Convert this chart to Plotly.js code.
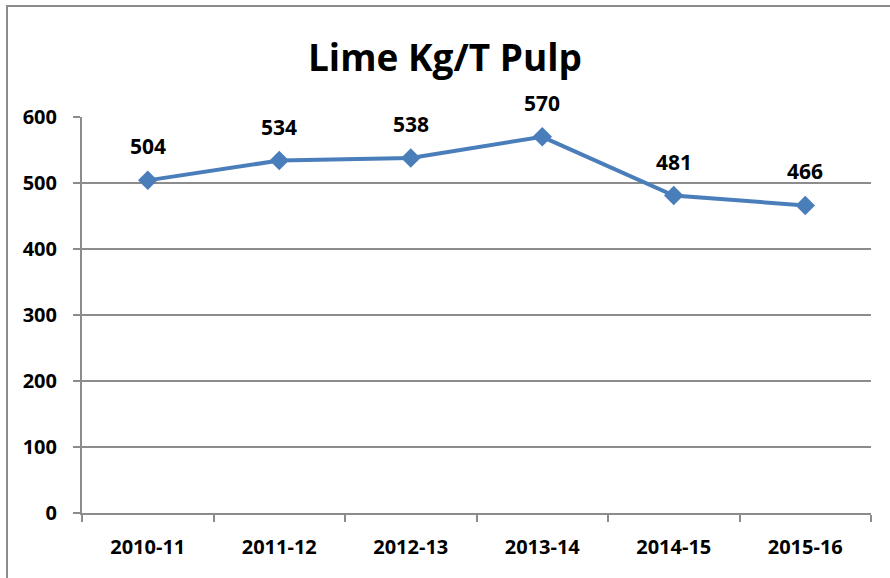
<!DOCTYPE html>
<html><head><meta charset="utf-8">
<script src="https://cdn.plot.ly/plotly-3.0.1.min.js"></script>
<style>
html,body{margin:0;padding:0;background:#fff;overflow:hidden}
#frame{position:absolute;left:6px;top:5px;width:900px;height:600px;border:2px solid #8c8c8c;box-sizing:border-box}
#chart{position:absolute;left:0;top:0;width:890px;height:578px}
</style></head>
<body>
<div id="frame"></div>
<div id="chart"></div>
<script>
const years = ["2010-11","2011-12","2012-13","2013-14","2014-15","2015-16"];
const limeKgPerT = [504,534,538,570,481,466];
const yTicks = [0,100,200,300,400,500,600];

const font = "Open Sans, Noto Sans, sans-serif";
const trace = {
  x: years, y: limeKgPerT, type: "scatter", mode: "lines+markers",
  line: {color: "#4a7ebb", width: 4},
  marker: {symbol: "diamond", size: 15, color: "#4a7ebb"},
  hoverinfo: "none"
};
const annotations = years.map((c, i) => ({
  x: c, y: limeKgPerT[i], text: "<b>" + limeKgPerT[i] + "</b>",
  showarrow: false, yshift: 34, font: {family: font, size: 21, color: "#000"}
}));
const layout = {
  width: 890, height: 578,
  margin: {l: 82, r: 19, t: 117, b: 65},
  paper_bgcolor: "rgba(0,0,0,0)", plot_bgcolor: "rgba(0,0,0,0)",
  showlegend: false,
  title: {text: "<b>Lime Kg/T Pulp</b>", x: 0.5, xanchor: "center", y: 0.9, yanchor: "middle",
          font: {family: font, size: 37, color: "#000"}},
  xaxis: {type: "category", range: [-0.5, 5.5], tickson: "boundaries",
          ticks: "outside", ticklen: 7, tickwidth: 2, tickcolor: "#8c8c8c",
          showline: true, linecolor: "#8c8c8c", linewidth: 2, showgrid: false,
          ticklabelstandoff: 15,
          tickfont: {family: font, size: 20, color: "#000", weight: "bold"}},
  yaxis: {range: [0, 600], tickvals: yTicks, ticktext: yTicks.map(String),
          ticks: "outside", ticklen: 7, tickwidth: 2, tickcolor: "#8c8c8c",
          showline: true, linecolor: "#8c8c8c", linewidth: 2,
          gridcolor: "#8c8c8c", gridwidth: 1.5, zeroline: false,
          ticklabelstandoff: 12,
          tickfont: {family: font, size: 20, color: "#000", weight: "bold"}},
  annotations: annotations
};
Plotly.newPlot("chart", [trace], layout, {displayModeBar: false, staticPlot: true});
</script>
</body></html>
